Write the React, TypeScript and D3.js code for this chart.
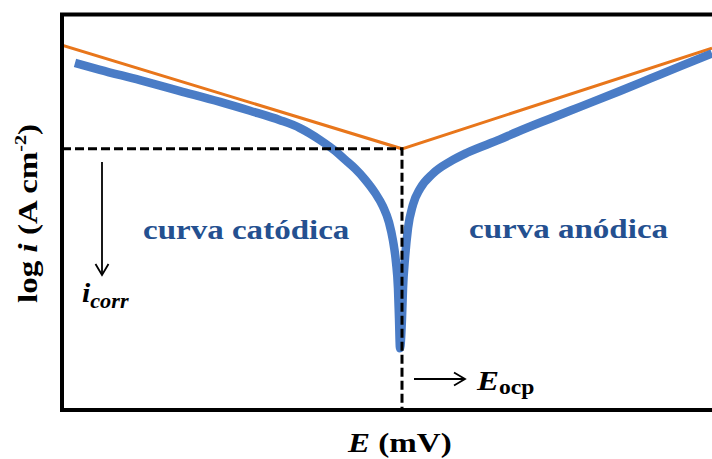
import * as d3 from 'd3';

// Polarization curve (blue)
const cathodicE = [-327, -302, -262, -222, -182, -152, -122, -102, -82, -67, -57, -47, -37, -27, -19, -13, -9, -6, -4, -3, -2];
const cathodicLogI = [-1.97, -2.11, -2.32, -2.54, -2.76, -2.94, -3.13, -3.29, -3.53, -3.75, -3.93, -4.11, -4.33, -4.6, -4.88, -5.2, -5.57, -6.01, -6.54, -7.14, -7.75];
const anodicE = [0, 1, 3, 6, 11, 18, 31, 48, 65, 98, 115, 148, 178, 218, 248, 278, 310];
const anodicLogI = [-7.14, -6.54, -5.93, -5.32, -4.84, -4.52, -4.21, -3.97, -3.79, -3.52, -3.37, -3.1, -2.86, -2.54, -2.29, -2.04, -1.78];

// Tafel extrapolation (orange)
const tafelE = [-340, 0, 310];
const tafelLogI = [-1.61, -3.71, -1.67];

const Eocp = 0;
const logIcorr = -3.71;

const W = 712;
const H = 459;
const left = 62;
const right = 712;
const top = 14.5;
const bottom = 410;

const blueColor = '#4a7cc6';
const orangeColor = '#e8761b';
const textBlue = '#245090';
const stretch = 1.18; // the lettering in the figure is wider than Times

export default function App() {
  const x = d3.scaleLinear().domain([-340, 310]).range([left, right]);
  const y = d3.scaleLinear().domain([-9, -1]).range([bottom, top + 0.5]);

  const pts: [number, number][] = [
    ...cathodicE.map((e, i) => [e, cathodicLogI[i]] as [number, number]),
    ...anodicE.map((e, i) => [e, anodicLogI[i]] as [number, number]),
  ];
  const line = d3.line<[number, number]>()
    .x(d => x(d[0]))
    .y(d => y(d[1]))
    .curve(d3.curveMonotoneX);

  const tafel = d3.line<number>()
    .x(d => x(tafelE[d]))
    .y(d => y(tafelLogI[d]));

  const xo = x(Eocp);
  const yc = y(logIcorr);
  const serif = '"Liberation Serif", "Times New Roman", serif';

  return (
    <svg width={W} height={H} style={{ position: 'absolute', left: 0, top: 0, background: '#fff' }}>
      <defs>
        <clipPath id="plot">
          <rect x={left} y={top} width={right - left} height={bottom - top} />
        </clipPath>
      </defs>
      <g clipPath="url(#plot)">
        <path d={tafel(d3.range(tafelE.length))!} fill="none" stroke={orangeColor} strokeWidth={3} />
        <path d={line(pts)!} fill="none" stroke={blueColor} strokeWidth={8.5} strokeLinejoin="round" strokeLinecap="butt" />
      </g>
      {/* dashed guides */}
      <path d={`M${left},${yc}H${xo}V${bottom}`} fill="none" stroke="#000" strokeWidth={3} strokeDasharray="9,4" />
      {/* frame */}
      <path d={`M${right},${top}H${left}V${bottom}H${right}`} fill="none" stroke="#000" strokeWidth={4} />

      <text transform={`translate(143,239) scale(${stretch},1)`} fontFamily={serif} fontWeight="bold" fontSize={28} fill={textBlue}>curva catódica</text>
      <text transform={`translate(469,238) scale(${stretch},1)`} fontFamily={serif} fontWeight="bold" fontSize={28} fill={textBlue}>curva anódica</text>

      {/* i_corr arrow */}
      <line x1={102} y1={162} x2={102} y2={274} stroke="#000" strokeWidth={1.8} />
      <path d="M95.5,264L102,275L108.5,264" fill="none" stroke="#000" strokeWidth={1.8} />
      <text transform="translate(82,302) scale(1.06,1)" fontFamily={serif} fontWeight="bold" fontStyle="italic" fontSize={28}>
        i<tspan fontSize={21} dy={6}>corr</tspan>
      </text>

      {/* E_ocp arrow */}
      <line x1={414} y1={379} x2={464} y2={379} stroke="#000" strokeWidth={1.8} />
      <path d="M454,372.5L465,379L454,385.5" fill="none" stroke="#000" strokeWidth={1.8} />
      <text transform={`translate(477,390) scale(${stretch},1)`} fontFamily={serif} fontWeight="bold" fontSize={28}>
        <tspan fontStyle="italic">E</tspan><tspan fontSize={20} dy={4}>ocp</tspan>
      </text>

      {/* axis titles */}
      <text transform={`translate(348,452) scale(${stretch},1)`} fontFamily={serif} fontWeight="bold" fontSize={28}>
        <tspan fontStyle="italic">E</tspan> (mV)
      </text>
      <text transform={`translate(37,303) rotate(-90) scale(${stretch},1)`} fontFamily={serif} fontWeight="bold" fontSize={28}>
        log <tspan fontStyle="italic">i</tspan> (A cm<tspan fontSize={17} dy={-11}>-2</tspan><tspan dy={11}>)</tspan>
      </text>
    </svg>
  );
}
